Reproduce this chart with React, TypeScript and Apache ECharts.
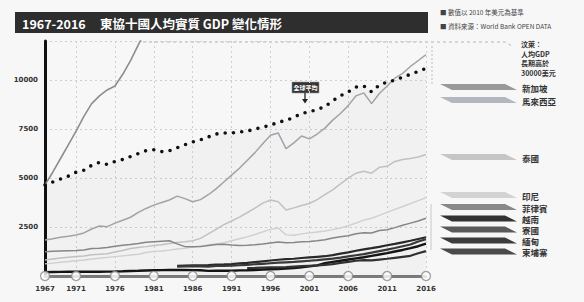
import React, { useEffect, useRef } from "react";
import * as echarts from "echarts";

const years: string[] = [];
for (let y = 1967; y <= 2016; y++) years.push(String(y));

const tickYears = [1967, 1971, 1976, 1981, 1986, 1991, 1996, 2001, 2006, 2011, 2016];
const yTicks = [2500, 5000, 7500, 10000];

const N = null;
const singapore = [4650, 5300, 6000, 6700, 7400, 8150, 8800, 9200, 9500, 9700, 10300, 11000, 11800, 12600,
  N, N, N, N, N, N, N, N, N, N, N, N, N, N, N, N, N, N, N, N, N, N, N, N, N, N, N, N, N, N, N, N, N, N, N, N];
const worldAvg = [4650, 4800, 4950, 5100, 5300, 5400, 5650, 5800, 5700, 5850, 5950, 6100, 6250, 6400, 6450, 6350, 6400,
  6550, 6700, 6850, 6950, 7100, 7250, 7300, 7300, 7350, 7400, 7500, 7600, 7700, 7850, 7950, 8100, 8300, 8380, 8500,
  8650, 8950, 9200, 9400, 9650, 9700, 9400, 9750, 9900, 10000, 10150, 10300, 10450, 10600];
const malaysia = [1840, 1900, 1980, 2030, 2090, 2200, 2400, 2550, 2520, 2700, 2850, 3000, 3250, 3450, 3620, 3750, 3880,
  4080, 3950, 3790, 3900, 4150, 4450, 4800, 5150, 5500, 5900, 6300, 6750, 7190, 7300, 6500, 6800, 7150, 7000, 7250,
  7550, 7960, 8300, 8700, 9200, 9350, 8800, 9320, 9700, 10100, 10350, 10700, 11000, 11300];
const thailand = [820, 870, 920, 960, 990, 1020, 1090, 1110, 1140, 1220, 1300, 1400, 1450, 1500, 1560, 1600, 1660, 1710,
  1750, 1800, 1920, 2150, 2380, 2620, 2810, 3010, 3230, 3470, 3720, 3880, 3790, 3370, 3480, 3600, 3700, 3900, 4150,
  4400, 4700, 5000, 5250, 5350, 5250, 5550, 5600, 5850, 5950, 6000, 6080, 6200];
const indonesia = [620, 660, 700, 740, 780, 820, 870, 910, 950, 990, 1030, 1070, 1110, 1200, 1260, 1280, 1320, 1380,
  1420, 1480, 1540, 1590, 1640, 1700, 1800, 1900, 2000, 2120, 2250, 2380, 2450, 2100, 2080, 2150, 2200, 2250, 2300,
  2370, 2450, 2570, 2700, 2850, 2950, 3100, 3250, 3400, 3550, 3700, 3850, 4000];
const philippines = [1240, 1260, 1280, 1290, 1300, 1330, 1400, 1420, 1460, 1520, 1570, 1610, 1660, 1720, 1750, 1780,
  1800, 1640, 1500, 1490, 1500, 1560, 1610, 1620, 1580, 1560, 1570, 1600, 1640, 1690, 1740, 1700, 1710, 1750, 1760,
  1800, 1850, 1940, 2000, 2060, 2160, 2210, 2200, 2320, 2360, 2470, 2590, 2700, 2810, 2950];
const vietnam = [N, N, N, N, N, N, N, N, N, N, N, N, N, N, N, N, N, 520, 530, 540, 550, 560, 580, 590, 610, 640, 670,
  710, 750, 790, 830, 860, 880, 920, 950, 980, 1010, 1070, 1140, 1210, 1290, 1360, 1420, 1490, 1570, 1640, 1720, 1800,
  1890, 1980];
const laos = [N, N, N, N, N, N, N, N, N, N, N, N, N, N, N, N, N, 480, 490, 500, 490, 480, 510, 520, 530, 550, 570, 600,
  620, 650, 680, 700, 720, 750, 780, 810, 850, 890, 940, 1000, 1060, 1120, 1190, 1270, 1350, 1430, 1520, 1610, 1760,
  1880];
const myanmar = [200, 205, 210, 215, 220, 220, 215, 220, 225, 230, 240, 255, 265, 280, 290, 300, 305, 310, 310, 300,
  290, 260, 265, 270, 265, 285, 295, 310, 330, 345, 360, 375, 410, 450, 490, 540, 650, 720, 780, 840, 900, 960, 1030,
  1100, 1170, 1250, 1330, 1420, 1520, 1650];
const cambodia = [N, N, N, N, N, N, N, N, N, N, N, N, N, N, N, N, N, N, N, N, N, N, N, N, N, N, 400, 410, 430, 440,
  440, 450, 480, 500, 520, 540, 570, 610, 670, 720, 780, 810, 800, 840, 880, 930, 980, 1030, 1160, 1270];

const title1 = "1967-2016";
const title2 = "東協十國人均實質 GDP 變化情形";
const notes = ["■ 數值以 2010 年美元為基準", "■ 資料來源：World Bank OPEN DATA"];
const bruneiNote = ["汶萊：", "人均GDP", "長期高於", "30000美元"];
const legendNames = ["新加坡", "馬來西亞", "泰國", "印尼", "菲律賓", "越南", "寮國", "緬甸", "柬埔寨"];
const annotationText = "全球平均";

const legendY = [87, 100, 157, 195, 207, 218.5, 229.5, 240.5, 251.5];
const legendColors = ["#999999", "#b3b7bf", "#c6c6c6", "#d3d3d3", "#888888", "#333333", "#5a5a5a", "#3c3c3c", "#4a4a4a"];

const FONT = "'Noto Sans CJK TC', 'Noto Sans', sans-serif";

export default function App() {
  const ref = useRef<HTMLDivElement>(null);
  useEffect(() => {
    if (!ref.current) return;
    const chart = echarts.init(ref.current, undefined, { renderer: "svg" });
    const isTick = (idx: number, val: string) => tickYears.includes(Number(val ?? years[idx]));
    const line = (name: string, data: (number | null)[], color: string, width: number, z = 3) => ({
      type: "line",
      name,
      data,
      symbol: "none",
      clip: true,
      z,
      lineStyle: { color, width },
      connectNulls: false,
    });
    const graphics: any[] = [
      { type: "rect", shape: { x: 15, y: 12, width: 413, height: 21 }, style: { fill: "#2e2e2e" } },
      { type: "text", x: 22, y: 23, style: { text: title1, fill: "#fff", font: `bold 12.5px ${FONT}`, verticalAlign: "middle" } },
      { type: "text", x: 100, y: 23, style: { text: title2, fill: "#fff", font: `bold 12.5px ${FONT}`, verticalAlign: "middle" } },
      { type: "text", x: 440, y: 12, style: { text: notes[0], fill: "#444", font: `6.5px ${FONT}`, verticalAlign: "middle" } },
      { type: "text", x: 440, y: 26, style: { text: notes[1], fill: "#444", font: `6.5px ${FONT}`, verticalAlign: "middle" } },
      { type: "polyline", shape: { points: [[143, 42], [505, 42], [512, 46]] }, style: { stroke: "#b5b5b5", lineWidth: 1, lineDash: [3, 3], fill: null } },
      { type: "line", shape: { x1: 432, y1: 46, x2: 432, y2: 84 }, style: { stroke: "#bdbdbd", lineWidth: 1, lineDash: [2, 2] } },
      { type: "line", shape: { x1: 431, y1: 204, x2: 431, y2: 250 }, style: { stroke: "#c8c8c8", lineWidth: 1 } },
      { type: "rect", shape: { x: 292, y: 82, width: 27, height: 11 }, style: { fill: "#333", stroke: "#999", lineWidth: 0.6 } },
      { type: "text", x: 305.5, y: 87.7, style: { text: annotationText, fill: "#fff", font: `bold 6px ${FONT}`, align: "center", verticalAlign: "middle" } },
      { type: "line", shape: { x1: 305, y1: 93, x2: 305, y2: 100 }, style: { stroke: "#222", lineWidth: 1.3 } },
      { type: "polygon", shape: { points: [[302, 99], [308, 99], [305, 103.5]] }, style: { fill: "#222" } },
    ];
    bruneiNote.forEach((t, i) => {
      graphics.push({
        type: "text", x: 521, y: 44 + i * 9.5,
        style: { text: t, fill: "#333", font: `bold 7px ${FONT}`, verticalAlign: "middle" },
      });
    });
    legendNames.forEach((nm, i) => {
      const yc = legendY[i];
      graphics.push({
        type: "polygon",
        shape: { points: [[440, yc - 3], [505, yc - 3], [517, yc + 3], [452, yc + 3]] },
        style: { fill: legendColors[i] },
      });
      graphics.push({
        type: "text", x: 522, y: yc + 0.5,
        style: { text: nm, fill: "#333", font: `bold 8.5px ${FONT}`, verticalAlign: "middle" },
      });
    });

    chart.setOption({
      animation: false,
      backgroundColor: "#f7f7f7",
      grid: { left: 45, right: 158, top: 41, bottom: 26, containLabel: false },
      xAxis: {
        type: "category",
        data: years,
        boundaryGap: false,
        axisLine: { lineStyle: { color: "#7a7a7a", width: 3 } },
        axisTick: { show: false },
        axisLabel: {
          interval: (idx: number, val: string) => isTick(idx, val),
          fontSize: 7, fontWeight: "bold", color: "#333", margin: 9, fontFamily: "DejaVu Sans",
        },
        splitLine: {
          show: true,
          interval: (idx: number, val: string) => isTick(idx, val),
          lineStyle: { color: "#cfcfcf", type: [2, 3], width: 1 },
        },
      },
      yAxis: {
        type: "value",
        min: 0,
        max: 12000,
        interval: 2500,
        axisLine: { show: true, lineStyle: { color: "#111", width: 3 } },
        axisTick: { show: false },
        axisLabel: {
          formatter: (v: number) => (yTicks.includes(v) ? String(v) : ""),
          fontSize: 7, fontWeight: "bold", color: "#333", margin: 7, fontFamily: "DejaVu Sans",
        },
        splitLine: { show: true, lineStyle: { color: "#cfcfcf", type: [2, 3], width: 1 } },
      },
      series: [
        {
          type: "line", name: "全球平均", data: worldAvg, symbol: "none", z: 6,
          lineStyle: { color: "#111", width: 3.6, type: [0, 8.3], cap: "round" },
          areaStyle: { color: "rgba(0,0,0,0.035)" },
        },
        line("新加坡", singapore, "#8d8d8d", 1.6, 4),
        line("馬來西亞", malaysia, "#a4a7ae", 1.5, 4),
        line("泰國", thailand, "#c6c6c6", 1.5, 3),
        line("印尼", indonesia, "#d5d5d5", 1.4, 3),
        line("菲律賓", philippines, "#8a8a8a", 1.5, 4),
        line("越南", vietnam, "#2a2a2a", 2.2, 5),
        line("寮國", laos, "#3a3a3a", 2.2, 5),
        line("緬甸", myanmar, "#151515", 2.4, 5),
        line("柬埔寨", cambodia, "#333333", 2.2, 5),
        {
          type: "scatter",
          data: tickYears.map((y) => [String(y), 0]),
          symbol: "circle",
          symbolSize: 9,
          clip: false,
          z: 8,
          silent: true,
          itemStyle: { color: "#ffffff", borderColor: "#8a8a8a", borderWidth: 1.3 },
        },
      ],
      graphic: graphics,
    });
    return () => chart.dispose();
  }, []);
  return <div ref={ref} style={{ position: "fixed", left: 0, top: 0, width: 584, height: 302 }} />;
}
